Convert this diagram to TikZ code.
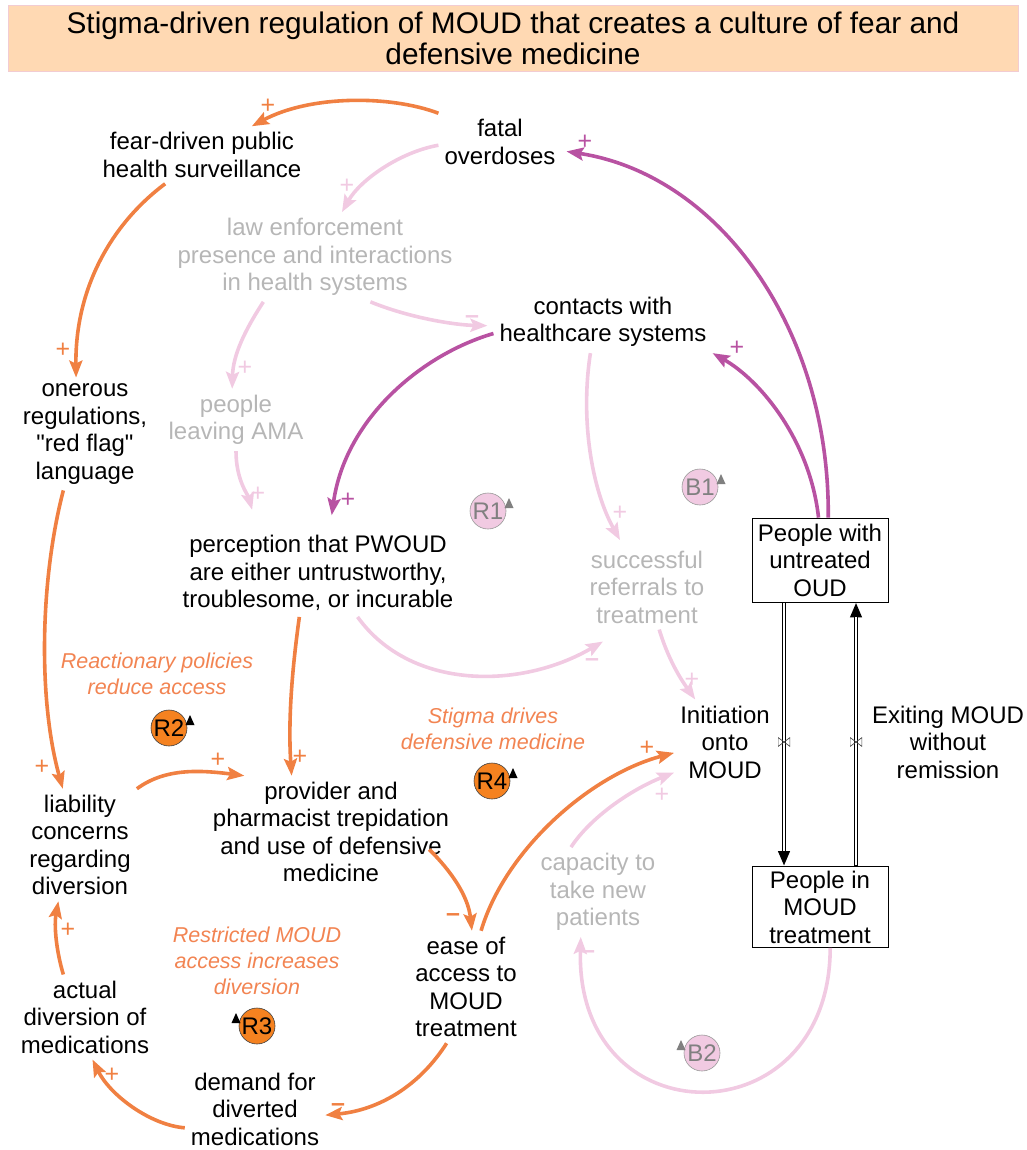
\documentclass[tikz,border=0pt]{standalone}
\usepackage{fontspec}
\setmainfont{Liberation Sans}[Ligatures=TeXOff]
\usetikzlibrary{arrows.meta}
\definecolor{linkorange}{RGB}{240,128,66}
\definecolor{labelorange}{RGB}{242,132,82}
\definecolor{looporange}{RGB}{245,130,32}
\definecolor{linkpurple}{RGB}{184,82,162}
\definecolor{linkpink}{RGB}{241,202,226}
\definecolor{fadedtext}{RGB}{182,182,182}
\definecolor{titlefill}{RGB}{255,217,179}
\definecolor{titleedge}{RGB}{242,204,210}
\newcommand{\polneg}{\textbf{–}}
\tikzset{var/.style={align=center,inner sep=6pt}}
\tikzset{faded/.style={var,text=fadedtext}}
\tikzset{stock/.style={draw,line width=0.8pt,fill=white,align=center,minimum width=136pt,minimum height=84pt,inner sep=2pt}}
\tikzset{tag/.style={align=center,text=labelorange,font=\fontsize{21.5}{26}\selectfont\itshape}}
\tikzset{link/.style={line width=3.6pt,-{Stealth[length=17pt,width=13pt,inset=3pt]}}}
\tikzset{olink/.style={link,linkorange}, plink/.style={link,linkpurple}, klink/.style={link,linkpink}}
\tikzset{sgn/.style={font=\fontsize{25}{25}\selectfont,inner sep=0pt}}
\tikzset{looptag/.style={circle,draw,line width=0.6pt,minimum size=36pt,inner sep=-3pt}}
\tikzset{rloop/.style={looptag,fill=looporange,draw=black!75}, bloop/.style={looptag,fill=linkpink,draw=gray!80,text=gray}}
\tikzset{pipe/.style={line width=4.4pt,-{Triangle[length=15pt,width=11pt]}}}
\tikzset{pipecore/.style={white,line width=2.2pt,shorten >=15pt,shorten <=0.8pt}}
\tikzset{valve/.style={minimum width=12pt,minimum height=9pt,inner sep=0pt,
  path picture={\draw[line width=0.7pt,black!70] (path picture bounding box.north west) -- (path picture bounding box.south east) -- (path picture bounding box.north east) -- (path picture bounding box.south west) -- cycle;}}}

\begin{document}
\begin{tikzpicture}[x=1pt,y=-1pt,font=\fontsize{24}{27.5}\selectfont]
      \useasboundingbox (0,0) rectangle (1026,1150);
      \node[draw=titleedge,fill=titlefill,minimum width=1010pt,minimum height=66pt,align=center,font=\fontsize{29.8}{31}\selectfont] (title) at (513,38) {Stigma-driven regulation of MOUD that creates a culture of fear and\\defensive medicine};

      \node[var] (fatal) at (500,142) {fatal\\overdoses};
      \node[var] (fear) at (202,155) {fear-driven public\\health surveillance};
      \node[faded] (law) at (315,257) {law enforcement\\presence and interactions\\in health systems};
      \node[var] (contacts) at (603,322) {contacts with\\healthcare systems};
      \node[var] (onerous) at (85,434) {onerous\\regulations,\\"red flag"\\language};
      \node[faded] (leaving) at (236,420) {people\\leaving AMA};
      \node[var] (perception) at (318,573) {perception that PWOUD\\are either untrustworthy,\\troublesome, or incurable};
      \node[faded] (referrals) at (647,587) {successful\\referrals to\\treatment};
      \node[stock] (untreated) at (820,560) {People with\\untreated\\OUD};
      \node[var] (initiation) at (725,742) {Initiation\\onto\\MOUD};
      \node[var] (exiting) at (948,742) {Exiting MOUD\\without\\remission};
      \node[stock,minimum height=81pt] (mbox) at (820,907) {People in\\MOUD\\treatment};
      \node[var] (liability) at (80,845) {liability\\concerns\\regarding\\diversion};
      \node[var] (provider) at (331,832) {provider and\\pharmacist trepidation\\and use of defensive\\medicine};
      \node[faded] (capacity) at (598,892) {capacity to\\take new\\patients};
      \node[var] (ease) at (466,987) {ease of\\access to\\MOUD\\treatment};
      \node[var] (actual) at (85,1017) {actual\\diversion of\\medications};
      \node[var] (demand) at (255,1109) {demand for\\diverted\\medications};

      \node[tag] (reactionary) at (157,674) {Reactionary policies\\reduce access};
      \node[tag] (stigmatag) at (493,729) {Stigma drives\\defensive medicine};
      \node[tag] (restricted) at (257,961) {Restricted MOUD\\access increases\\diversion};

      \node[bloop] (R1) at (488,511) {R1};
      \node[bloop] (B1) at (700,487) {B1};
      \node[bloop] (B2) at (702,1053) {B2};
      \node[rloop] (R2) at (169,728) {R2};
      \node[rloop] (R3) at (257,1026) {R3};
      \node[rloop] (R4) at (492,781) {R4};
      \foreach \n/\d/\c in {R1/1/gray,B1/1/gray,B2/-1/gray,R2/1/black,R3/-1/black,R4/1/black}
        \fill[\c] (\n) ++(\d*21,-13) -- ++(-4.5,10) -- ++(9,0) -- cycle;

      \draw[olink] (fatal.north west) .. controls (390,95) and (310,95) .. (fear.30);
      \draw[olink] (fear.218) .. controls (110,225) and (75,290) .. (onerous.99);
      \draw[olink] (onerous.249) .. controls (40,580) and (38,700) .. (liability.107);
      \draw[olink] (liability.north east) .. controls (165,768) and (200,770) .. (provider.147);
      \draw[olink] (perception.247) .. controls (292,670) and (288,720) .. (provider.125);
      \draw[olink] ([xshift=-26pt]provider.-8) .. controls (450,870) and (468,895) .. (ease.84);
      \draw[olink] (ease.251) .. controls (420,1085) and (380,1110) .. (demand.-5);
      \draw[olink] (demand.195) .. controls (150,1125) and (110,1095) .. (actual.-80);
      \draw[olink] (actual.117) .. controls (56,950) and (54,925) .. (liability.249);
      \draw[olink] (ease.75) .. controls (505,850) and (590,775) .. (initiation.192);

      \draw[plink,shorten >=5pt] (untreated.79) .. controls (830,330) and (720,175) .. (fatal.-8);
      \draw[plink] (untreated.92) .. controls (810,440) and (760,380) .. (contacts.south east);
      \draw[plink,shorten >=14pt] (contacts.186) .. controls (420,355) and (345,420) .. (perception.75);

      \draw[klink] (fatal.183) .. controls (400,152) and (360,180) .. (law.59);
      \draw[klink,shorten >=6pt] (law.-39) .. controls (410,318) and (455,325) .. (contacts.182);
      \draw[klink] (law.221) .. controls (245,330) and (233,355) .. (leaving.97);
      \draw[klink,shorten >=20pt] (leaving.south) .. controls (236,480) and (248,495) .. (perception.144);
      \draw[klink,shorten >=5pt] (contacts.248) .. controls (580,420) and (592,490) .. (referrals.120);
      \draw[klink] (perception.-48) .. controls (410,690) and (520,690) .. ([yshift=-12pt]referrals.224);
      \draw[klink] (referrals.-74) .. controls (670,665) and (685,685) .. (initiation.125);
      \draw[klink] (capacity.121) .. controls (590,818) and (630,790) .. (initiation.211);
      \draw[klink] (mbox.-76) .. controls (830,1140) and (575,1140) .. (capacity.249);

      \coordinate (v1) at (784,742);
      \coordinate (v2) at (856,742);
      \draw[pipe] (untreated.south -| v1) -- (mbox.north -| v1);
      \draw[pipecore] (untreated.south -| v1) -- (mbox.north -| v1);
      \draw[pipe] (mbox.north -| v2) -- (untreated.south -| v2);
      \draw[pipecore] (mbox.north -| v2) -- (untreated.south -| v2);
      \node[valve] (valve1) at (v1) {};
      \node[valve] (valve2) at (v2) {};

      \foreach \x/\y/\s/\c [count=\i] in {268/106/+/linkorange,63/350/+/linkorange,42/767/+/linkorange,218/760/+/linkorange,300/757/+/linkorange,453/918/\polneg/linkorange,338/1108/\polneg/linkorange,112/1075/+/linkorange,68/930/+/linkorange,647/748/+/linkorange,585/142/+/linkpurple,737/348/+/linkpurple,348/500/+/linkpurple,347/186/+/linkpink,472/320/\polneg/linkpink,245/368/+/linkpink,258/494/+/linkpink,620/513/+/linkpink,592/663/\polneg/linkpink,692/680/+/linkpink,662/795/+/linkpink,588/955/\polneg/linkpink}
        \node[sgn,text=\c] (sign\i) at (\x,\y) {\s};
    \end{tikzpicture}
\end{document}
